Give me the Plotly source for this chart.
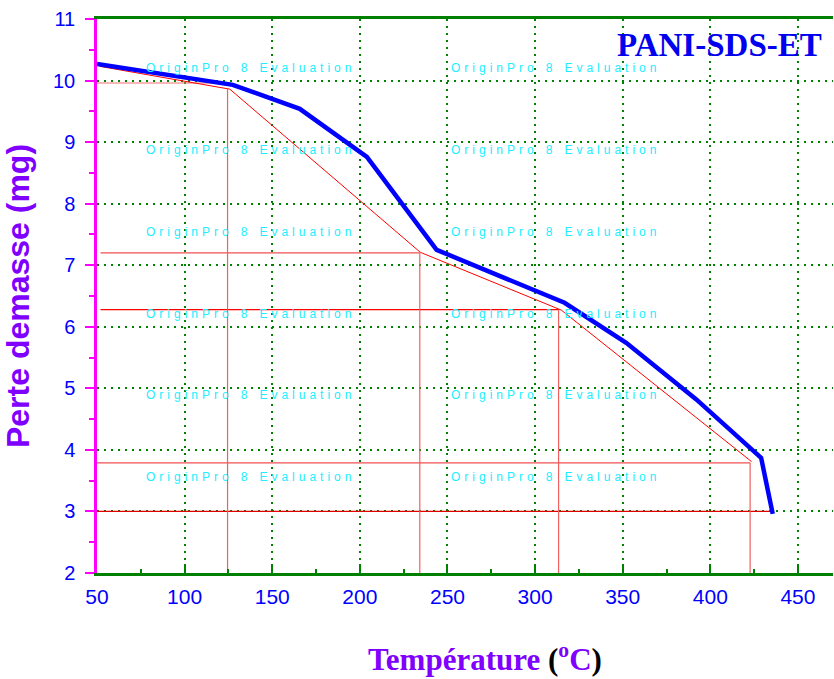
import plotly.graph_objects as go

# Blue TGA curve
temperature = [50, 127.5, 165.7, 204, 243.8, 316.8, 352, 392, 429, 435.6]
masse = [10.27, 9.93, 9.54, 8.76, 7.25, 6.39, 5.74, 4.82, 3.87, 2.96]

# Red tangent construction
tangent_x = [51.7, 125.8, 234.5, 315, 423.5]
tangent_y = [10.23, 9.86, 7.21, 6.27, 3.81]

# Horizontal red guides: level, x start, x end
h_levels = [9.96, 7.20, 6.28, 3.79, 3.00]
h_start = [50, 52, 52, 50, 50]
h_end = [124.5, 234.2, 313.4, 422.7, 436]
h_colors = ["#f07070", "#f05050", "#ff0000", "#f05050", "#e00000"]

# Vertical red guides: x position, top y
v_pos = [124.5, 234.2, 313.4, 422.7]
v_top = [9.86, 7.20, 6.28, 3.79]

x_ticks = [50, 100, 150, 200, 250, 300, 350, 400, 450]
y_ticks = [2, 3, 4, 5, 6, 7, 8, 9, 10, 11]

fig = go.Figure()

for lvl, xs, xe, c in zip(h_levels, h_start, h_end, h_colors):
    fig.add_trace(go.Scatter(x=[xs, xe], y=[lvl, lvl], mode="lines",
                             line=dict(color=c, width=1.2), hoverinfo="skip",
                             showlegend=False))
for xp, yt in zip(v_pos, v_top):
    fig.add_trace(go.Scatter(x=[xp, xp], y=[yt, 2], mode="lines",
                             line=dict(color="#f06060", width=1.2), hoverinfo="skip",
                             showlegend=False))
fig.add_trace(go.Scatter(x=tangent_x, y=tangent_y, mode="lines",
                         line=dict(color="#ff0000", width=1), showlegend=False))
fig.add_trace(go.Scatter(x=temperature, y=masse, mode="lines",
                         line=dict(color="#0000ff", width=4.5), showlegend=False))

# Watermarks
sp = "\u2004"
wm_text = sp.join("OriginPro") + sp * 3 + "8" + sp * 3 + sp.join("Evaluation")
rows_px = [68, 150, 232, 314, 395, 477]
cols_px = [248, 553]
for ry in rows_px:
    for cx in cols_px:
        fig.add_annotation(x=(cx - 97) / 736, y=(573 - ry) / 554, xref="paper", yref="paper",
                           xanchor="center", yanchor="middle",
                           text=wm_text, showarrow=False,
                           font=dict(family="Arial, Liberation Sans", size=12, color="#20eeff"))

fig.add_annotation(x=(719 - 97) / 736, y=(573 - 45) / 554, xref="paper", yref="paper",
                   xanchor="center", yanchor="middle",
                   text="<b>PANI-SDS-ET</b>", showarrow=False,
                   font=dict(family="Liberation Serif", size=33, color="#0000ee"))

fig.add_annotation(x=(485 - 97) / 736, y=-(657 - 573) / 554, xref="paper", yref="paper",
                   xanchor="center", yanchor="middle",
                   text="<b>Température <span style='color:black'>(</span><sup>o</sup>C<span style='color:black'>)</span></b>",
                   showarrow=False,
                   font=dict(family="Liberation Serif", size=31, color="#8000ff"))

fig.update_layout(
    width=834, height=679,
    margin=dict(l=97, r=1, t=19, b=106),
    paper_bgcolor="white", plot_bgcolor="white",
    xaxis=dict(range=[50, 470], tickvals=x_ticks, ticktext=[str(v) for v in x_ticks],
               showline=True, linecolor="#008000", linewidth=2.5, mirror=True,
               ticks="inside", ticklen=9, tickwidth=2, tickcolor="#008000",
               minor=dict(dtick=25, ticks="inside", ticklen=4, tickwidth=2, tickcolor="#008000",
                          showgrid=False),
               showgrid=True, gridcolor="#008000", gridwidth=2, griddash="2px,5px",
               tickfont=dict(family="Arial, Liberation Sans", size=21, color="#0000ff"),
               ticklabelstandoff=3,
               zeroline=False),
    yaxis=dict(range=[2, 11], tickvals=y_ticks, ticktext=[str(v) for v in y_ticks],
               showline=True, linecolor="#ff00ff", linewidth=2.5, mirror=False,
               ticks="outside", ticklen=9, tickwidth=2, tickcolor="#ff00ff",
               minor=dict(dtick=0.5, ticks="outside", ticklen=5, tickwidth=2, tickcolor="#ff00ff",
                          showgrid=False),
               showgrid=True, gridcolor="#008000", gridwidth=2, griddash="2px,5px",
               tickfont=dict(family="Arial, Liberation Sans", size=20, color="#0000ff"),
               ticklabelstandoff=6,
               title=dict(text="<b>Perte demasse (mg)</b>", standoff=16,
                          font=dict(family="Arial, Liberation Sans", size=32, color="#8000ff")),
               zeroline=False),
)

fig.write_html("out.html")
